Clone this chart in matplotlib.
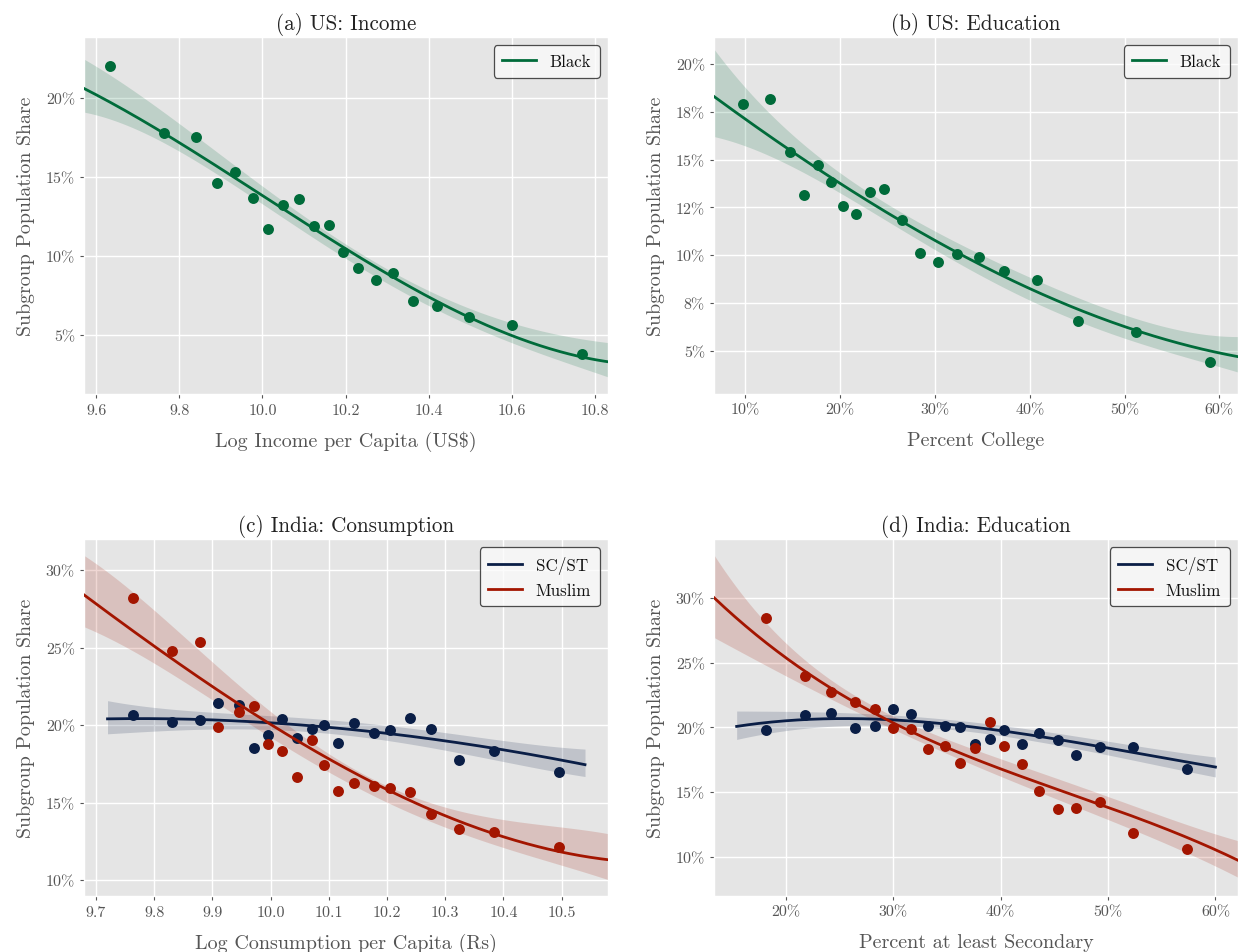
import numpy as np
import matplotlib
matplotlib.use("Agg")
import matplotlib.pyplot as plt
from matplotlib.ticker import MultipleLocator, FuncFormatter

plt.style.use("ggplot")
plt.rcParams["font.family"] = ["cmr10", "DejaVu Serif"]
plt.rcParams["mathtext.fontset"] = "cm"
plt.rcParams["axes.formatter.use_mathtext"] = True
plt.rcParams["axes.unicode_minus"] = False

# ---------------- scatter data (shares in percent) ----------------
us_income_x = [9.633, 9.762, 9.841, 9.891, 9.933, 9.977, 10.014, 10.050, 10.089, 10.125,
               10.160, 10.193, 10.230, 10.272, 10.313, 10.362, 10.420, 10.497, 10.600, 10.770]
us_income_black = [22.05, 17.78, 17.53, 14.60, 15.32, 13.67, 11.73, 13.25, 13.63, 11.90,
                   11.96, 10.27, 9.26, 8.50, 8.95, 7.15, 6.86, 6.16, 5.68, 3.82]

us_college_x = [9.79, 12.64, 14.66, 16.21, 17.69, 19.03, 20.25, 21.68, 23.19, 24.66,
                26.50, 28.43, 30.37, 32.34, 34.69, 37.25, 40.77, 45.05, 51.26, 59.06]
us_college_black = [17.88, 18.17, 15.41, 13.13, 14.73, 13.81, 12.57, 12.15, 13.30, 13.44,
                    11.82, 10.12, 9.68, 10.08, 9.89, 9.16, 8.74, 6.58, 6.01, 4.43]

in_cons_x = [9.764, 9.830, 9.878, 9.910, 9.945, 9.971, 9.995, 10.019, 10.045, 10.071,
             10.092, 10.115, 10.144, 10.177, 10.205, 10.239, 10.276, 10.323, 10.384, 10.496]
in_cons_scst = [20.67, 20.22, 20.34, 21.42, 21.31, 18.49, 19.35, 20.39, 19.14, 19.76,
                19.98, 18.84, 20.15, 19.48, 19.68, 20.47, 19.74, 17.72, 18.30, 16.99]
in_cons_muslim = [28.20, 24.76, 25.34, 19.85, 20.82, 21.23, 18.79, 18.34, 16.66, 19.03,
                  17.44, 15.74, 16.25, 16.08, 15.93, 15.65, 14.27, 13.30, 13.13, 12.10]

in_sec_x = [18.15, 21.81, 24.21, 26.40, 28.34, 30.00, 31.66, 33.25, 34.86, 36.23,
            37.60, 38.97, 40.33, 41.96, 43.55, 45.32, 47.02, 49.24, 52.31, 57.34]
in_sec_scst = [19.77, 20.93, 21.11, 19.97, 20.15, 21.42, 21.01, 20.15, 20.15, 20.00,
               18.68, 19.12, 19.82, 18.71, 19.56, 19.05, 17.83, 18.48, 18.48, 16.75]
in_sec_muslim = [28.44, 23.95, 22.76, 21.99, 21.39, 19.92, 19.85, 18.30, 18.56, 17.27,
                 18.40, 20.41, 18.56, 17.19, 15.07, 13.70, 13.73, 14.19, 11.85, 10.56]

# ---------------- fitted curves and 95% bands ----------------
fit_a_x = [9.5705, 9.6, 9.7, 9.8, 9.9, 10.0, 10.1, 10.2, 10.3, 10.4, 10.5, 10.6, 10.7, 10.8, 10.8314]
fit_a_mid = [20.55, 20.17, 18.80, 17.20, 15.68, 13.84, 12.19, 10.30, 8.67, 7.40, 6.18, 5.13, 4.24, 3.50, 3.14]
fit_a_hi = [22.43, 21.96, 20.38, 18.48, 16.37, 14.22, 12.57, 10.78, 9.20, 7.93, 6.77, 5.72, 4.98, 4.66, 4.60]
fit_a_lo = [19.16, 18.90, 18.00, 16.54, 15.00, 13.38, 11.73, 9.83, 8.14, 6.88, 5.61, 4.56, 3.61, 2.70, 2.30]

fit_b_x = [6.69, 10, 15, 20, 25, 30, 35, 40, 45, 50, 55, 60, 61.97]
fit_b_mid = [18.21, 17.27, 15.35, 13.65, 12.17, 10.83, 9.56, 8.25, 7.21, 6.25, 5.47, 4.95, 4.72]
fit_b_hi = [20.52, 19.22, 16.08, 14.17, 12.69, 11.30, 10.08, 8.86, 7.82, 6.86, 6.17, 5.82, 5.77]
fit_b_lo = [16.08, 15.88, 14.69, 13.13, 11.65, 10.34, 9.04, 7.65, 6.60, 5.64, 4.86, 4.25, 3.90]

fit_c_scst_x = [9.72, 9.8, 9.9, 10.0, 10.1, 10.2, 10.3, 10.4, 10.5, 10.54]
fit_c_scst_mid = [20.43, 20.39, 20.28, 20.13, 19.89, 19.53, 18.99, 18.28, 17.74, 17.48]
fit_c_scst_hi = [21.57, 21.14, 20.82, 20.60, 20.34, 19.96, 19.53, 18.99, 18.56, 18.45]
fit_c_scst_lo = [19.42, 19.63, 19.74, 19.70, 19.42, 19.05, 18.41, 17.59, 16.94, 16.68]

fit_c_mus_x = [9.6796, 9.7, 9.8, 9.9, 10.0, 10.1, 10.2, 10.3, 10.4, 10.5, 10.5795]
fit_c_mus_mid = [28.20, 27.75, 25.60, 22.60, 19.74, 17.59, 15.80, 14.25, 12.96, 11.88, 11.17]
fit_c_mus_hi = [30.94, 30.29, 27.71, 24.05, 20.60, 18.02, 16.30, 14.90, 13.82, 13.18, 13.13]
fit_c_mus_lo = [26.42, 25.88, 24.05, 21.68, 19.10, 16.94, 15.11, 13.39, 12.10, 10.91, 10.05]

fit_d_scst_x = [15.42, 20, 25, 30, 35, 40, 45, 50, 55, 60]
fit_d_scst_mid = [20.10, 20.49, 20.67, 20.59, 20.28, 19.77, 19.12, 18.35, 17.70, 16.93]
fit_d_scst_hi = [21.29, 21.19, 21.19, 20.98, 20.62, 20.15, 19.59, 18.92, 18.30, 17.70]
fit_d_scst_lo = [19.07, 19.77, 20.10, 20.15, 19.90, 19.38, 18.66, 17.83, 17.06, 16.15]

fit_d_mus_x = [13.31, 15, 20, 25, 30, 35, 40, 45, 50, 55, 60, 62.1]
fit_d_mus_mid = [30.04, 28.93, 25.19, 22.48, 20.41, 18.61, 16.93, 15.25, 13.70, 12.15, 10.60, 9.75]
fit_d_mus_hi = [33.26, 31.51, 26.35, 23.25, 20.93, 19.17, 17.57, 16.03, 14.61, 13.19, 11.90, 11.12]
fit_d_mus_lo = [26.86, 26.35, 24.03, 21.70, 19.90, 18.04, 16.28, 14.48, 12.80, 11.12, 9.45, 8.28]

titles = ["(a) US: Income", "(b) US: Education", "(c) India: Consumption", "(d) India: Education"]
xlabels = ["Log Income per Capita (US\\$)", "Percent College",
           "Log Consumption per Capita (Rs)", "Percent at least Secondary"]
ylabel = "Subgroup Population Share"

GREEN = "#006B3A"
NAVY = "#0A1E46"
RED = "#A31500"

W, H = 1241, 953
fig = plt.figure(figsize=(W / 100, H / 100), dpi=100)


def ax_at(l, t, r, b):
    return fig.add_axes([l / W, 1 - b / H, (r - l) / W, (b - t) / H])


axes = [ax_at(84, 38, 608, 395), ax_at(714, 38, 1238, 395),
        ax_at(84, 540, 608, 897), ax_at(714, 540, 1238, 897)]


def smooth(fx, fy, grid, order):
    fx = np.asarray(fx, float)
    c0, sc = fx.mean(), fx.std()
    coef = np.polyfit((fx - c0) / sc, np.asarray(fy, float), order)
    return np.polyval(coef, (grid - c0) / sc)


def draw(ax, x, y, fx, fmid, flo, fhi, color, label):
    grid = np.linspace(min(fx), max(fx), 300)
    mid = smooth(fx, fmid, grid, 3)
    lo = smooth(fx, flo, grid, 4)
    hi = smooth(fx, fhi, grid, 4)
    ax.fill_between(grid, lo, hi, color=color, alpha=0.17, lw=0, zorder=2)
    ax.plot(grid, mid, color=color, lw=2.0, label=label, zorder=4)
    ax.scatter(x, y, s=62, color=color, linewidths=0, zorder=3)


pct = FuncFormatter(lambda v, p: f"{v:.0f}%")
dec1 = FuncFormatter(lambda v, p: f"{v:.1f}")

# (a)
ax = axes[0]
draw(ax, us_income_x, us_income_black, fit_a_x, fit_a_mid, fit_a_lo, fit_a_hi, GREEN, "Black")
ax.set_xlim(9.5705, 10.8314); ax.set_ylim(1.29, 23.86)
ax.xaxis.set_major_locator(MultipleLocator(0.2))
ax.xaxis.set_major_formatter(dec1)
ax.yaxis.set_major_locator(MultipleLocator(5))

# (b)
ax = axes[1]
draw(ax, us_college_x, us_college_black, fit_b_x, fit_b_mid, fit_b_lo, fit_b_hi, GREEN, "Black")
ax.set_xlim(6.69, 61.97); ax.set_ylim(2.77, 21.39)
ax.xaxis.set_major_locator(MultipleLocator(10))
ax.xaxis.set_major_formatter(pct)
ax.yaxis.set_major_locator(MultipleLocator(2.5))

# (c)
ax = axes[2]
draw(ax, in_cons_x, in_cons_scst, fit_c_scst_x, fit_c_scst_mid, fit_c_scst_lo, fit_c_scst_hi, NAVY, "SC/ST")
draw(ax, in_cons_x, in_cons_muslim, fit_c_mus_x, fit_c_mus_mid, fit_c_mus_lo, fit_c_mus_hi, RED, "Muslim")
ax.set_xlim(9.6796, 10.5795); ax.set_ylim(8.97, 32.0)
ax.xaxis.set_major_locator(MultipleLocator(0.1))
ax.xaxis.set_major_formatter(dec1)
ax.yaxis.set_major_locator(MultipleLocator(5))

# (d)
ax = axes[3]
draw(ax, in_sec_x, in_sec_scst, fit_d_scst_x, fit_d_scst_mid, fit_d_scst_lo, fit_d_scst_hi, NAVY, "SC/ST")
draw(ax, in_sec_x, in_sec_muslim, fit_d_mus_x, fit_d_mus_mid, fit_d_mus_lo, fit_d_mus_hi, RED, "Muslim")
ax.set_xlim(13.31, 62.1); ax.set_ylim(6.95, 34.59)
ax.xaxis.set_major_locator(MultipleLocator(10))
ax.xaxis.set_major_formatter(pct)
ax.yaxis.set_major_locator(MultipleLocator(5))

for ax, t, xlab in zip(axes, titles, xlabels):
    ax.yaxis.set_major_formatter(pct)
    ax.set_title(t, fontsize=15.2, color="#222222", pad=6)
    ax.set_xlabel(xlab, fontsize=14.5, color="#555555", labelpad=10)
    ax.set_ylabel(ylabel, fontsize=14.3, color="#555555", labelpad=8)
    ax.tick_params(labelsize=11.5, colors="#555555", length=3)
    ax.grid(True, color="white", lw=1.0)
    ax.set_axisbelow(True)
    leg = ax.legend(loc="upper right", fontsize=12.2, frameon=True, fancybox=True,
                    handlelength=2.0, borderpad=0.5)
    leg.get_frame().set_edgecolor("#222222")
    leg.get_frame().set_facecolor("#FAFAFA")
    leg.get_frame().set_linewidth(0.9)
    for txt in leg.get_texts():
        txt.set_color("#111111")

fig.savefig("out.png", dpi=100)
